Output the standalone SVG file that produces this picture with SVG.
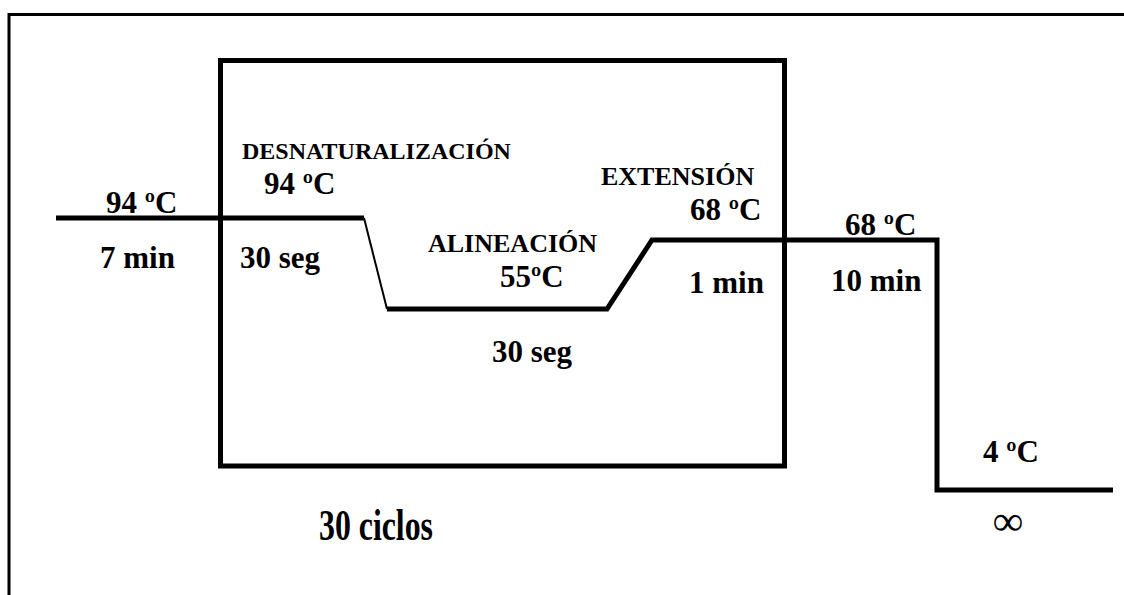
<svg xmlns="http://www.w3.org/2000/svg" width="1124" height="595" viewBox="0 0 1124 595">
<style>
text{font-family:"Liberation Serif","Times New Roman",serif;font-weight:bold;fill:#000}
.t{font-size:31px}
.h{font-size:24px}
.thick{fill:none;stroke:#000;stroke-width:5;stroke-linejoin:miter}
.thin{fill:none;stroke:#000;stroke-width:2}
</style>
<rect width="1124" height="595" fill="#fff"/>
<g id="frame">
<path d="M9 600 V14.5 H1130" fill="none" stroke="#000" stroke-width="3"/>
</g>
<g id="cycle-box">
<rect x="220.5" y="60.5" width="564" height="405.5" class="thick"/>
<text x="319" y="540" font-size="44" textLength="114" lengthAdjust="spacingAndGlyphs">30 ciclos</text>
</g>
<g id="connectors">
<path d="M56 218 H364" class="thick"/>
<path d="M364 218 L387 309" class="thin"/>
<path d="M387 309 H607 L652 240 H937 V490 H1113" class="thick"/>
</g>
<g id="initial">
<text class="t" x="106" y="213">94 ºC</text>
<text class="t" x="100" y="268">7 min</text>
</g>
<g id="desnaturalizacion">
<text class="h" x="242" y="159" font-size="23">DESNATURALIZACIÓN</text>
<text class="t" x="264" y="194">94 ºC</text>
<text class="t" x="240" y="268">30 seg</text>
</g>
<g id="alineacion">
<text x="428" y="252" font-size="26">ALINEACIÓN</text>
<text class="t" x="500" y="287">55ºC</text>
<text class="t" x="492" y="362">30 seg</text>
</g>
<g id="extension">
<text x="601" y="185" font-size="26">EXTENSIÓN</text>
<text class="t" x="690" y="220">68 ºC</text>
<text class="t" x="689" y="293">1 min</text>
</g>
<g id="final-extension">
<text class="t" x="845" y="235">68 ºC</text>
<text class="t" x="831" y="291">10 min</text>
</g>
<g id="hold">
<text class="t" x="983" y="462">4 ºC</text>
<text x="1008" y="535" font-size="42" font-weight="normal" text-anchor="middle">∞</text>
</g>
</svg>
